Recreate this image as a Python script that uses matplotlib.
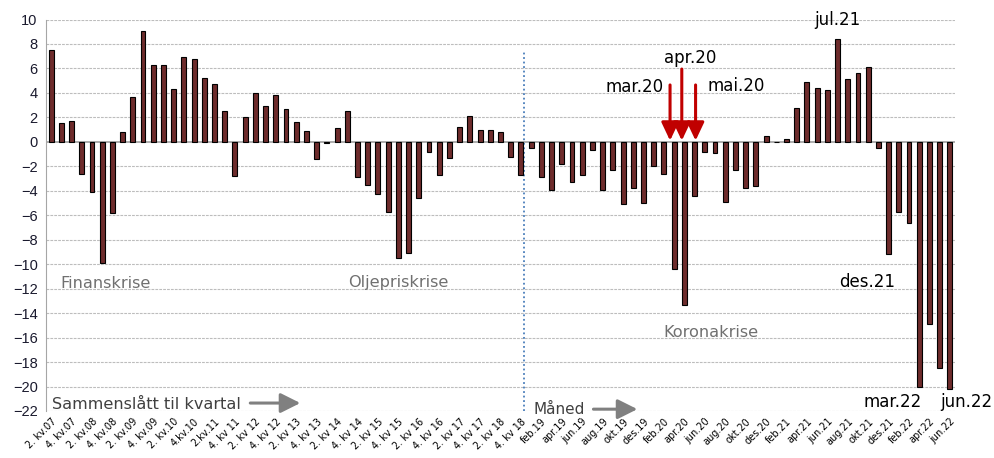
import matplotlib
matplotlib.use("Agg")
import matplotlib.pyplot as plt
import numpy as np

# quarterly values 2. kv.07 - 4. kv.18
kvartal = [7.5, 1.5, 1.7, -2.6, -4.1, -9.9, -5.8, 0.8, 3.7, 9.1, 6.3, 6.3,
           4.3, 6.9, 6.8, 5.2, 4.7, 2.5, -2.8, 2.0, 4.0, 2.9, 3.8, 2.7,
           1.6, 0.9, -1.4, -0.1, 1.1, 2.5, -2.9, -3.5, -4.3, -5.7, -9.5, -9.1,
           -4.6, -0.8, -2.7, -1.3, 1.2, 2.1, 1.0, 1.0, 0.8, -1.2, -2.7]
# monthly values jan.19 - jun.22
maaned = [-0.5, -2.9, -3.9, -1.8, -3.3, -2.7, -0.65, -3.9, -2.3, -5.1, -3.8, -5.0,
          -2.0, -2.6, -10.4, -13.3, -4.4, -0.8, -0.9, -4.9, -2.3, -3.8, -3.6, 0.5,
          0.0, 0.2, 2.8, 4.9, 4.4, 4.2, 8.4, 5.1, 5.6, 6.1, -0.5, -9.2,
          -5.7, -6.6, -20.0, -14.9, -18.5, -20.2]

kv_labels = ["2. kv.07", "4. kv.07", "2. kv.08", "4. kv.08", "2. kv.09", "4. kv.09",
             "2. kv.10", "4.kv.10", "2.kv.11", "4. kv 11", "2. kv 12", "4. kv 12",
             "2. kv 13", "4. kv 13", "2. kv 14", "4. kv 14", "2. kv 15", "4. kv 15",
             "2. kv 16", "4. kv 16", "2. kv 17", "4. kv 17", "2. kv 18", "4. kv 18"]
mnd_labels = ["feb.19", "apr.19", "jun.19", "aug.19", "okt.19", "des.19",
              "feb.20", "apr.20", "jun.20", "aug.20", "okt.20", "des.20",
              "feb.21", "apr.21", "jun.21", "aug.21", "okt.21", "des.21",
              "feb.22", "apr.22", "jun.22"]

values = kvartal + maaned
x = np.arange(len(values))

fig = plt.figure(figsize=(9.94, 4.58), dpi=100)
ax = fig.add_axes([46/994, 1-411/458, 909/994, (411-19.5)/458])

for y in range(-22, 11, 2):
    if y == 0:
        continue
    ax.axhline(y, color="#bdbdbd", lw=0.8, ls=(0, (2.5, 1)), zorder=0)
ax.axhline(0, color="#a6a6a6", lw=1.3, zorder=1)

ax.bar(x, values, width=0.48, color="#6e2c2c", edgecolor="black", lw=0.8, zorder=3)

ax.axvline(46.3, ymin=0, ymax=(7.5+22)/32, color="#4a7ebb", ls=(0, (1, 1.5)), lw=1.3, zorder=2)

ax.set_xlim(-0.5, len(values) - 0.5)
ax.set_ylim(-22, 10)
ax.set_yticks(range(-22, 11, 2))
ax.tick_params(axis="y", length=0, labelsize=10.5, pad=6, labelcolor="#1a1a2e")
for t in ax.get_yticklabels():
    t.set_family("Liberation Sans")

ax.set_xticks(x[::2])
ax.set_xticklabels(kv_labels + mnd_labels, rotation=45, ha="right", va="top",
                   rotation_mode="anchor", fontsize=7)
ax.tick_params(axis="x", length=0, pad=4)

for s in ["top", "right", "bottom"]:
    ax.spines[s].set_visible(False)
ax.spines["left"].set_color("#a6a6a6")

grey = "#707070"
ax.text(0.87, -11.6, "Finanskrise", color=grey, fontsize=11.6, va="center")
ax.text(29.1, -11.5, "Oljepriskrise", color=grey, fontsize=11.6, va="center")
ax.text(59.9, -15.6, "Koronakrise", color=grey, fontsize=11.6, va="center")
ax.text(0.09, -21.5, "Sammenslått til kvartal", color="#404040", fontsize=11.6, va="center")
ax.text(47.2, -21.85, "Måned", color="#404040", fontsize=11, va="center")

garrow = dict(arrowstyle="-|>,head_width=0.3,head_length=0.6", color="#808080",
              lw=2.2, mutation_scale=20, shrinkA=0, shrinkB=0)
ax.annotate("", xy=(24.4, -21.35), xytext=(19.5, -21.35), arrowprops=garrow)
ax.annotate("", xy=(57.4, -21.85), xytext=(53.1, -21.85), arrowprops=garrow)

red = "#c00000"
rarrow = dict(arrowstyle="-|>,head_width=0.26,head_length=0.55", color=red,
              lw=2.2, mutation_scale=20, shrinkA=0, shrinkB=0)
ax.annotate("", xy=(60.6, 0.1), xytext=(60.6, 4.65), arrowprops=rarrow, zorder=5)
ax.annotate("", xy=(61.75, 0.1), xytext=(61.75, 5.95), arrowprops=rarrow, zorder=5)
ax.annotate("", xy=(63.1, 0.1), xytext=(63.1, 4.65), arrowprops=rarrow, zorder=5)

for lx, ly, lab in [(57.1, 4.47, "mar.20"), (62.6, 6.84, "apr.20"), (67.1, 4.55, "mai.20"),
                    (76.95, 9.96, "jul.21"), (79.9, -11.43, "des.21"),
                    (82.4, -21.3, "mar.22"), (89.6, -21.3, "jun.22")]:
    ax.text(lx, ly, lab, fontsize=12, ha="center", va="center", clip_on=False, zorder=6)

fig.savefig("out.png", dpi=100)
